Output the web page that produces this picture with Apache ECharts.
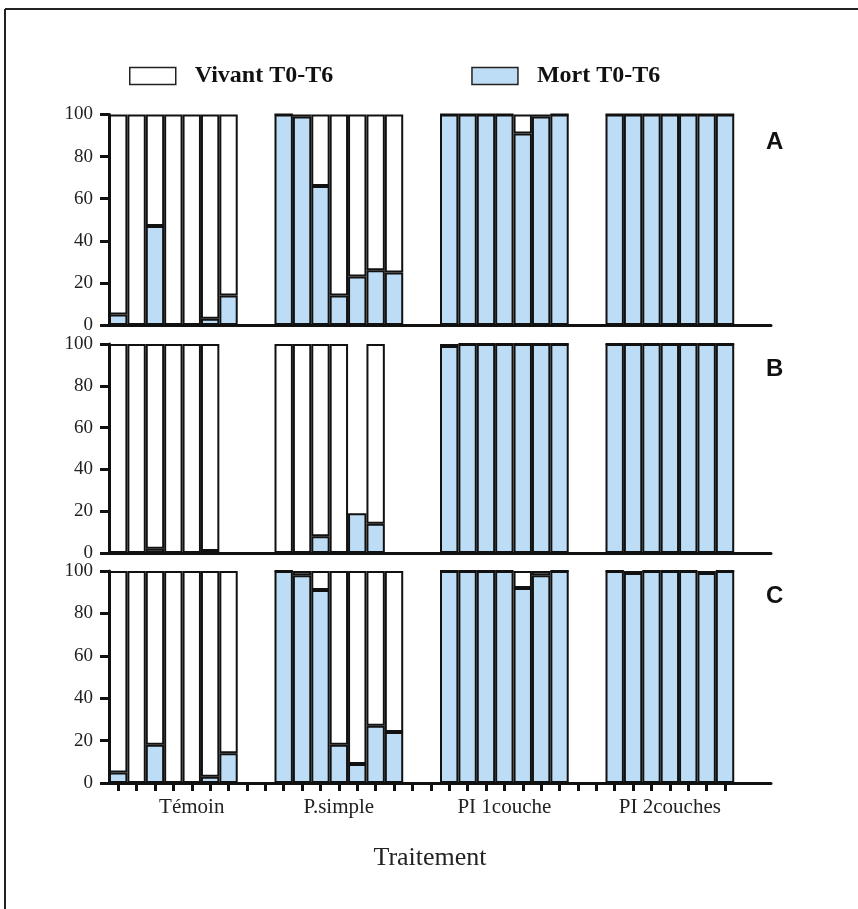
<!DOCTYPE html>
<html>
<head>
<meta charset="utf-8">
<script src="https://cdn.jsdelivr.net/npm/echarts@6/dist/echarts.min.js"></script>
<style>
  html, body { margin: 0; padding: 0; background: #fff; }
  #chart { width: 858px; height: 909px; }
</style>
</head>
<body>
<div id="chart"></div>
<script>
// groupes de traitement (7 barres chacun, 2 cases vides entre les groupes)
const groupes = ['Témoin', 'P.simple', 'PI 1couche', 'PI 2couches'];
const yTicks = [0, 20, 40, 60, 80, 100];
const panneaux = ['A', 'B', 'C'];

// % morts / vivants par barre, panneau A
const mortA = [[5, 0, 47, 0, 0, 3, 14], [100, 99, 66, 14, 23, 26, 25], [100, 100, 100, 100, 91, 99, 100], [100, 100, 100, 100, 100, 100, 100]];
const vivantA = [[95, 100, 53, 100, 100, 97, 86], [0, 1, 34, 86, 77, 74, 75], [0, 0, 0, 0, 9, 1, 0], [0, 0, 0, 0, 0, 0, 0]];
// panneau B
const mortB = [[0, 0, 2, 0, 0, 1, null], [0, 0, 8, 0, 19, 14, null], [99, 100, 100, 100, 100, 100, 100], [100, 100, 100, 100, 100, 100, 100]];
const vivantB = [[100, 100, 98, 100, 100, 99, null], [100, 100, 92, 100, null, 86, null], [1, 0, 0, 0, 0, 0, 0], [0, 0, 0, 0, 0, 0, 0]];
// panneau C
const mortC = [[5, 0, 18, 0, 0, 3, 14], [100, 98, 91, 18, 9, 27, 24], [100, 100, 100, 100, 92, 98, 100], [100, 99, 100, 100, 100, 99, 100]];
const vivantC = [[95, 100, 82, 100, 100, 97, 86], [0, 2, 9, 82, 91, 73, 76], [0, 0, 0, 0, 8, 2, 0], [0, 1, 0, 0, 0, 1, 0]];

const BLEU = '#bddcf5';
const SERIF = '"Liberation Serif", "DejaVu Serif", serif';

// construit les 36 cases de l'axe : groupe, 2 vides, groupe, ...
const nSlots = 36;
const labelPos = [4, 12, 21, 30];
const slots = [];
for (let i = 0; i < nSlots; i++) slots.push('');
groupes.forEach((g, k) => { slots[labelPos[k]] = g; });

function etaler(groupesVals) {
  const out = [];
  groupesVals.forEach((vals, k) => {
    vals.forEach(v => out.push(v === null ? '-' : v));
    if (k < groupesVals.length - 1) out.push('-', '-');
  });
  while (out.length < nSlots) out.push('-');
  return out;
}

const chart = echarts.init(document.getElementById('chart'));

const grids = [
  { left: 109, width: 662, top: 114.5, height: 210.5 },
  { left: 109, width: 662, top: 344, height: 209 },
  { left: 109, width: 662, top: 571, height: 212 }
];

const xAxes = grids.map((g, i) => ({
  type: 'category',
  gridIndex: i,
  data: slots,
  boundaryGap: true,
  axisLine: { show: true, lineStyle: { color: '#111', width: 3 } },
  axisTick: {
    show: i === 2,
    alignWithLabel: true,
    length: 8,
    interval: (idx) => idx < 34,
    lineStyle: { color: '#111', width: 3 }
  },
  axisLabel: {
    show: i === 2,
    interval: 0,
    margin: 14,
    fontFamily: SERIF,
    fontSize: 21,
    color: '#222'
  },
  splitLine: { show: false }
}));
xAxes[2].name = 'Traitement';
xAxes[2].nameLocation = 'middle';
xAxes[2].nameGap = 62;
xAxes[2].nameTextStyle = { fontFamily: SERIF, fontSize: 26, color: '#222', padding: [0, 0, 0, -20] };

const yAxes = grids.map((g, i) => ({
  type: 'value',
  gridIndex: i,
  min: yTicks[0],
  max: yTicks[yTicks.length - 1],
  interval: 20,
  axisLine: { show: true, lineStyle: { color: '#111', width: 3 } },
  axisTick: { show: true, length: 9, lineStyle: { color: '#111', width: 3 } },
  axisLabel: { fontFamily: SERIF, fontSize: 19, color: '#222', margin: 16 },
  splitLine: { show: false }
}));

const mortes = [mortA, mortB, mortC];
const vivants = [vivantA, vivantB, vivantC];
const series = [];
panneaux.forEach((p, i) => {
  series.push({
    name: 'Mort T0-T6',
    type: 'bar',
    stack: 'p' + p,
    xAxisIndex: i,
    yAxisIndex: i,
    barCategoryGap: '0%',
    data: etaler(mortes[i]),
    itemStyle: { color: BLEU, borderColor: '#111', borderWidth: 2 }
  });
  series.push({
    name: 'Vivant T0-T6',
    type: 'bar',
    stack: 'p' + p,
    xAxisIndex: i,
    yAxisIndex: i,
    barCategoryGap: '0%',
    data: etaler(vivants[i]),
    itemStyle: { color: '#fff', borderColor: '#111', borderWidth: 2 }
  });
});

const option = {
  backgroundColor: '#fff',
  animation: false,
  legend: {
    data: ['Vivant T0-T6', 'Mort T0-T6'],
    icon: 'rect',
    left: 124,
    top: 59,
    itemWidth: 46,
    itemHeight: 17,
    itemGap: 138,
    itemStyle: { borderWidth: 1.5, borderColor: '#222' },
    textStyle: { fontFamily: SERIF, fontSize: 24, fontWeight: 'bold', color: '#111', padding: [0, 0, 0, 14] }
  },
  grid: grids,
  xAxis: xAxes,
  yAxis: yAxes,
  series: series,
  graphic: [
    { type: 'line', shape: { x1: 5, y1: 9, x2: 858, y2: 9 }, style: { stroke: '#222', lineWidth: 2 } },
    { type: 'line', shape: { x1: 5, y1: 9, x2: 5, y2: 909 }, style: { stroke: '#222', lineWidth: 2 } },
    { type: 'text', left: 766, top: 130, style: { text: 'A', font: 'bold 24px "Liberation Sans", Arial, sans-serif', fill: '#111' } },
    { type: 'text', left: 766, top: 357, style: { text: 'B', font: 'bold 24px "Liberation Sans", Arial, sans-serif', fill: '#111' } },
    { type: 'text', left: 766, top: 584, style: { text: 'C', font: 'bold 24px "Liberation Sans", Arial, sans-serif', fill: '#111' } }
  ]
};

chart.setOption(option);
</script>
</body>
</html>
